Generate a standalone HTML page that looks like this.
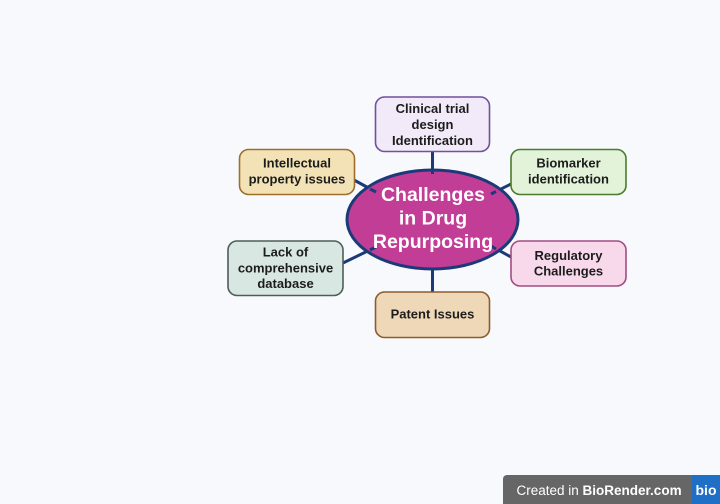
<!DOCTYPE html>
<html><head><meta charset="utf-8"><style>
html,body{margin:0;padding:0;background:#f8f9fd;}
svg{display:block;}
text{font-family:"Liberation Sans",Arial,sans-serif;}
</style></head><body>
<svg width="720" height="504" viewBox="0 0 720 504" xmlns="http://www.w3.org/2000/svg">
<rect width="720" height="504" fill="#f8f9fd"/>
<g stroke="#1d3a78" stroke-width="3" stroke-linecap="butt">
<line x1="432.5" y1="151" x2="432.5" y2="174"/>
<line x1="432.5" y1="265" x2="432.5" y2="292"/>
<line x1="354" y1="180" x2="376" y2="192"/>
<line x1="511" y1="184" x2="491" y2="194"/>
<line x1="343" y1="263" x2="376" y2="247"/>
<line x1="491" y1="246" x2="511" y2="257"/>
</g>
<ellipse cx="432.5" cy="219.5" rx="85.5" ry="49.5" fill="#c23d96" stroke="#1d3a78" stroke-width="3"/>
<g stroke="#1d3a78" stroke-width="3">
<line x1="432.5" y1="169" x2="432.5" y2="174"/>
<line x1="370" y1="189" x2="376" y2="192"/>
<line x1="496" y1="191.5" x2="491" y2="194"/>
<line x1="370" y1="250" x2="376" y2="247"/>
<line x1="496" y1="249" x2="491" y2="246"/>
</g>
<g font-weight="bold" font-size="19.5" fill="#ffffff" text-anchor="middle">
<text x="433" y="201">Challenges</text>
<text x="433" y="224.5">in Drug</text>
<text x="433" y="248">Repurposing</text>
</g>
<g stroke-width="1.6">
<rect x="375.5" y="97" width="114" height="54.5" rx="9" fill="#f2eaf9" stroke="#6f519c"/>
<rect x="239.5" y="149.5" width="115" height="45" rx="9" fill="#f3e2b6" stroke="#9c6f2c"/>
<rect x="511" y="149.5" width="115" height="45" rx="9" fill="#e3f3d9" stroke="#4b7b2c"/>
<rect x="228" y="241" width="115" height="54.5" rx="9" fill="#d9e7e3" stroke="#4d5d58"/>
<rect x="511" y="241" width="115" height="45" rx="9" fill="#f8d9eb" stroke="#a24c82"/>
<rect x="375.5" y="292" width="114" height="45.5" rx="9" fill="#efd8b8" stroke="#8c5c2c"/>
</g>
<g font-weight="bold" font-size="13" fill="#1c1c1c" text-anchor="middle">
<text x="432.5" y="113">Clinical trial</text>
<text x="432.5" y="129">design</text>
<text x="432.5" y="145">Identification</text>
<text x="297" y="167.5">Intellectual</text>
<text x="297" y="183.5">property issues</text>
<text x="568.5" y="167.5">Biomarker</text>
<text x="568.5" y="183.5">identification</text>
<text x="285.5" y="256.5">Lack of</text>
<text x="285.5" y="272.3">comprehensive</text>
<text x="285.5" y="288">database</text>
<text x="568.5" y="260">Regulatory</text>
<text x="568.5" y="275.5">Challenges</text>
<text x="432.5" y="318.5">Patent Issues</text>
</g>
<path d="M503 504 V479 a4 4 0 0 1 4 -4 H692 V504 Z" fill="#666666"/>
<rect x="692" y="475" width="28" height="29" fill="#1f6fc6"/>
<text x="516.5" y="495" font-size="13.5" fill="#ffffff">Created in <tspan font-weight="bold">BioRender.com</tspan></text>
<text x="706" y="495" font-size="14" font-weight="bold" fill="#ffffff" text-anchor="middle">bio</text>
</svg>
</body></html>
